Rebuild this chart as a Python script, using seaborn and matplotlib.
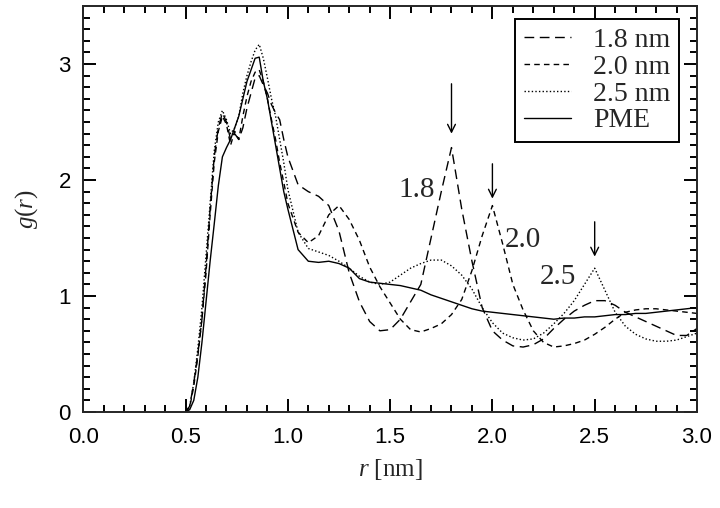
import numpy as np
import pandas as pd
import matplotlib
matplotlib.use("Agg")
import matplotlib.pyplot as plt
import seaborn as sns

# ---- data ----
r = [0.50, 0.52, 0.54, 0.56, 0.58, 0.60, 0.62, 0.64, 0.66, 0.68,
     0.70, 0.72, 0.74, 0.76, 0.78, 0.80, 0.82, 0.84, 0.86, 0.88,
     0.90, 0.92, 0.94, 0.96, 0.98,
     1.00, 1.05, 1.10, 1.15, 1.20, 1.25, 1.30, 1.35, 1.40, 1.45,
     1.50, 1.55, 1.60, 1.65, 1.70, 1.75, 1.80, 1.85, 1.90, 1.95,
     2.00, 2.05, 2.10, 2.15, 2.20, 2.25, 2.30, 2.35, 2.40, 2.45,
     2.50, 2.55, 2.60, 2.65, 2.70, 2.75, 2.80, 2.85, 2.90, 2.95, 3.00]

g_18 = [0.00, 0.05, 0.25, 0.50, 0.80, 1.25, 1.75, 2.20, 2.45, 2.58,
        2.50, 2.35, 2.40, 2.35, 2.45, 2.62, 2.75, 2.88, 2.90, 2.82,
        2.75, 2.65, 2.58, 2.52, 2.35,
        2.20, 1.96, 1.90, 1.86, 1.78, 1.56, 1.20, 0.95, 0.78, 0.70,
        0.71, 0.80, 0.95, 1.10, 1.50, 1.90, 2.28, 1.75, 1.30, 0.90,
        0.70, 0.62, 0.57, 0.56, 0.58, 0.63, 0.72, 0.80, 0.87, 0.92,
        0.96, 0.96, 0.92, 0.86, 0.82, 0.78, 0.74, 0.70, 0.66, 0.66, 0.72]

g_20 = [0.00, 0.04, 0.22, 0.48, 0.80, 1.20, 1.70, 2.15, 2.42, 2.55,
        2.48, 2.30, 2.42, 2.35, 2.55, 2.72, 2.85, 2.93, 2.95, 2.85,
        2.70, 2.52, 2.35, 2.15, 1.98,
        1.80, 1.55, 1.46, 1.52, 1.70, 1.78, 1.66, 1.48, 1.25, 1.08,
        0.94, 0.80, 0.71, 0.69, 0.72, 0.76, 0.84, 0.97, 1.22, 1.52,
        1.78, 1.45, 1.10, 0.88, 0.70, 0.60, 0.56, 0.57, 0.59, 0.62,
        0.67, 0.73, 0.80, 0.86, 0.88, 0.89, 0.89, 0.88, 0.87, 0.86, 0.85]

g_25 = [0.00, 0.05, 0.25, 0.55, 0.90, 1.35, 1.80, 2.25, 2.50, 2.60,
        2.52, 2.40, 2.45, 2.55, 2.75, 2.90, 3.02, 3.12, 3.17, 3.05,
        2.88, 2.70, 2.55, 2.35, 2.15,
        1.92, 1.55, 1.41, 1.38, 1.35, 1.30, 1.24, 1.17, 1.12, 1.10,
        1.12, 1.18, 1.24, 1.28, 1.31, 1.31, 1.26, 1.18, 1.06, 0.90,
        0.77, 0.68, 0.64, 0.62, 0.63, 0.68, 0.76, 0.85, 0.96, 1.10,
        1.24, 1.05, 0.86, 0.74, 0.67, 0.63, 0.61, 0.61, 0.62, 0.65, 0.68]

g_pme = [0.00, 0.02, 0.10, 0.30, 0.60, 0.95, 1.30, 1.62, 1.95, 2.20,
         2.28, 2.35, 2.45, 2.55, 2.70, 2.85, 2.95, 3.05, 3.06, 2.85,
         2.70, 2.50, 2.30, 2.10, 1.90,
         1.75, 1.40, 1.30, 1.29, 1.30, 1.28, 1.24, 1.15, 1.12, 1.11,
         1.10, 1.09, 1.07, 1.05, 1.01, 0.98, 0.95, 0.92, 0.89, 0.87,
         0.86, 0.85, 0.84, 0.83, 0.82, 0.81, 0.80, 0.81, 0.81, 0.82,
         0.82, 0.83, 0.84, 0.84, 0.85, 0.85, 0.86, 0.87, 0.88, 0.89, 0.90]

series_labels = ["1.8 nm", "2.0 nm", "2.5 nm", "PME"]
arrow_x = [1.8, 2.0, 2.5]
arrow_top = [2.83, 2.14, 1.64]
arrow_tip = [2.40, 1.84, 1.34]
peak_text = ["1.8", "2.0", "2.5"]
peak_text_x = [1.63, 2.15, 2.32]
peak_text_y = [1.91, 1.48, 1.16]

# ---- style ----
sns.set_theme(style="ticks")
plt.rcParams.update({
    "font.family": ["Liberation Sans", "DejaVu Sans"],
    "mathtext.fontset": "custom",
    "mathtext.rm": "Liberation Serif",
    "mathtext.it": "Liberation Serif:italic",
    "axes.linewidth": 1.4,
})

serif = ["Liberation Serif", "DejaVu Serif"]

fig = plt.figure(figsize=(7.2, 5.08), dpi=100)
ax = fig.add_axes([0.1157, 0.189, 0.968 - 0.1157, 0.988 - 0.189])

styles = [(0, (7, 4)), (0, (4, 3)), (0, (1, 1.6)), "-"]
for g, lab, ls in zip([g_18, g_20, g_25, g_pme], series_labels, styles):
    sns.lineplot(x=r, y=g, ax=ax, color="black", linewidth=1.0,
                 linestyle=ls, label=lab)

# arrows and peak labels
for x, yt, yb in zip(arrow_x, arrow_top, arrow_tip):
    ax.annotate("", xy=(x, yb), xytext=(x, yt),
                arrowprops=dict(arrowstyle="->", color="black", lw=1.0,
                                mutation_scale=14, shrinkA=0, shrinkB=0))
for t, x, y in zip(peak_text, peak_text_x, peak_text_y):
    ax.text(x, y, t, ha="center", va="center", fontsize=21, family=serif)

ax.set_xlim(0, 3.0)
ax.set_ylim(0, 3.5)
ax.set_xticks([0.0, 0.5, 1.0, 1.5, 2.0, 2.5, 3.0])
ax.set_xticklabels(["0.0", "0.5", "1.0", "1.5", "2.0", "2.5", "3.0"])
ax.set_yticks([0, 1, 2, 3])
ax.set_xticks(np.arange(0, 3.01, 0.1), minor=True)
ax.set_yticks(np.arange(0, 3.51, 0.1), minor=True)
ax.tick_params(which="both", direction="in", top=True, right=True,
               color="black", width=1.4, labelsize=16, labelcolor="black")
ax.tick_params(which="major", length=9.5)
ax.tick_params(axis="x", which="major", pad=11)
ax.tick_params(axis="y", which="major", pad=9)
ax.tick_params(which="minor", length=5)

ax.set_xlabel("$r$ [nm]", fontsize=18, labelpad=6, family=serif)
ax.set_ylabel("$g(r)$", fontsize=18, labelpad=13, family=serif)

leg = ax.legend(loc="upper right", bbox_to_anchor=(0.9707, 0.968),
                prop={"family": serif, "size": 20}, frameon=True,
                fancybox=False, edgecolor="black", framealpha=1,
                handlelength=1.7, handletextpad=0.8, borderpad=0.3,
                labelspacing=0.05, borderaxespad=0)
leg.get_frame().set_linewidth(1.4)
for h in leg.get_lines():
    h.set_color("black")

fig.savefig("out.png", dpi=100)
